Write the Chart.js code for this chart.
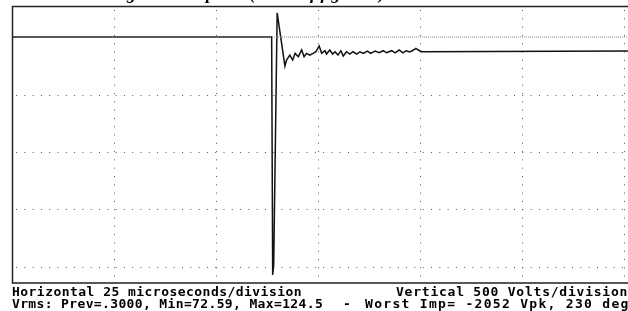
<!DOCTYPE html>
<html>
<head>
<meta charset="utf-8">
<script src="https://cdn.jsdelivr.net/npm/chart.js@4"></script>
<style>
  html, body { margin: 0; padding: 0; background: #fff; overflow: hidden; }
  #wrap { position: relative; width: 628px; height: 311px; overflow: hidden; background: #fff; }
  #caption { position: absolute; left: 110px; top: -16px; font: italic bold 18px "Liberation Serif", serif; line-height: 18px; white-space: nowrap; color: #000; }
  .info { position: absolute; font: bold 13px "DejaVu Sans Mono", monospace; line-height: 13px; white-space: nowrap; color: #000; }
</style>
</head>
<body>
<div id="wrap">
  <canvas id="scope" width="628" height="311"></canvas>
  <div id="caption">Figure 7: Impulse (detail of figure 6)</div>
  <div class="info" style="left:12px; top:285px; letter-spacing:0.46px">Horizontal 25 microseconds/division</div>
  <div class="info" style="left:396px; top:285px; letter-spacing:0.77px">Vertical 500 Volts/division</div>
  <div class="info" style="left:12px; top:297px; letter-spacing:0.36px">Vrms: Prev=.3000, Min=72.59, Max=124.5</div>
  <div class="info" style="left:343px; top:297px">-</div>
  <div class="info" style="left:365px; top:297px; letter-spacing:1.3px">Worst Imp= -2052 Vpk, 230 deg</div>
</div>
<script>
// Trace (time in microseconds, volts)
const timeUs = [0, 63.65, 63.9, 64.15, 65.0, 66.9, 67.3, 68.1, 68.8, 69.4, 70.2, 71.0, 71.6, 72.2, 73.0, 73.8,
  74.5, 75.3, 75.9, 76.7, 77.1, 77.9, 78.6, 79.2, 79.9, 80.6, 81.2, 82.0, 82.8, 83.6, 84.5, 85.3, 86.1,
  87.1, 87.9, 89.0, 90.0, 91.0, 91.8, 93.1, 93.9, 94.9, 95.8, 96.6, 97.5, 98.4, 99.0, 99.6, 100.4, 151];
const volts = [0, 0, -2070, -1980, 211, -252, -200, -157, -200, -142, -171, -113, -171, -142, -157, -142,
  -128, -78, -142, -119, -148, -113, -148, -128, -157, -119, -165, -128, -148, -128, -148, -128, -142,
  -122, -142, -122, -137, -119, -137, -119, -137, -113, -137, -119, -130, -113, -98, -113, -128, -122];

// Screen divisions: 25 us/div, 500 V/div
const gridTimes = [25, 50, 75, 100, 125, 150];
const gridVolts = [0, -500, -1000, -1500, -2000];
const zeroLine = [0, 151];

const trace = timeUs.map((t, i) => ({ x: t, y: volts[i] }));

// Dotted graticule and frame
const screenPlugin = {
    id: 'screen',
    beforeDatasetsDraw(chart) {
        const ctx = chart.ctx;
        const a = chart.chartArea;
        const xs = chart.scales.x;
        const ys = chart.scales.y;
        ctx.save();
        ctx.lineWidth = 1;
        ctx.strokeStyle = '#555';
        ctx.setLineDash([1, 7.3]);
        gridTimes.forEach(t => {
            const px = Math.round(xs.getPixelForValue(t)) + 0.5;
            ctx.beginPath();
            ctx.moveTo(px, a.top + 4);
            ctx.lineTo(px, a.bottom);
            ctx.stroke();
        });
        gridVolts.forEach(v => {
            if (v === 0) return;
            const py = Math.round(ys.getPixelForValue(v)) + 0.5;
            ctx.beginPath();
            ctx.moveTo(a.left + 4, py);
            ctx.lineTo(a.right, py);
            ctx.stroke();
        });
        ctx.restore();
    },
    afterDraw(chart) {
        const ctx = chart.ctx;
        const a = chart.chartArea;
        ctx.save();
        ctx.strokeStyle = '#222';
        ctx.lineWidth = 1.5;
        ctx.beginPath();
        ctx.moveTo(a.right + 5, a.top + 0.5);
        ctx.lineTo(a.left + 0.5, a.top + 0.5);
        ctx.lineTo(a.left + 0.5, a.bottom);
        ctx.lineTo(a.right + 5, a.bottom);
        ctx.stroke();
        ctx.restore();
    }
};

new Chart(document.getElementById('scope').getContext('2d'), {
    type: 'line',
    data: {
        datasets: [
            {
                label: 'Zero',
                data: zeroLine.map(t => ({ x: t, y: 0 })),
                borderColor: '#888',
                borderWidth: 1,
                borderDash: [1, 1],
                pointRadius: 0
            },
            {
                label: 'Impulse',
                data: trace,
                borderColor: '#111',
                borderWidth: 1.5,
                pointRadius: 0,
                tension: 0
            }
        ]
    },
    options: {
        responsive: false,
        animation: false,
        layout: { padding: { left: 12, top: 6, right: 0, bottom: 28 } },
        plugins: { legend: { display: false }, tooltip: { enabled: false } },
        scales: {
            x: {
                type: 'linear',
                min: 0,
                max: 151,
                display: true,
                ticks: { display: false },
                grid: { display: false, drawTicks: false },
                border: { display: false },
                afterFit: s => { s.height = 0; }
            },
            y: {
                type: 'linear',
                min: -2140,
                max: 270,
                display: true,
                ticks: { display: false },
                grid: { display: false, drawTicks: false },
                border: { display: false },
                afterFit: s => { s.width = 0; }
            }
        }
    },
    plugins: [screenPlugin]
});
</script>
</body>
</html>
